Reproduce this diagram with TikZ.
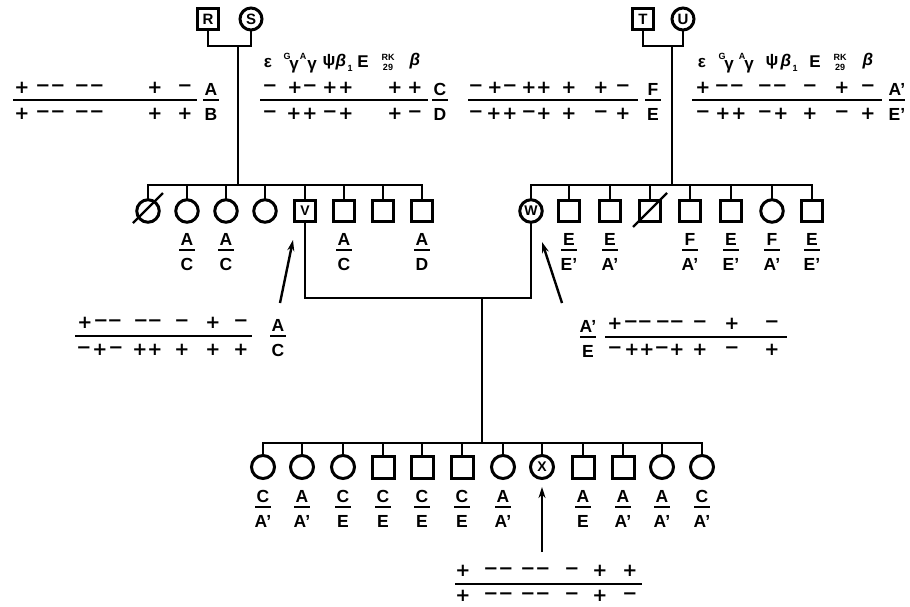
\documentclass[tikz,border=0pt]{standalone}
\usepackage{fontspec}
\setmainfont{Liberation Sans}
\newfontfamily\sgnfont{DejaVu Sans}
\usetikzlibrary{arrows.meta,calc}
\newcommand\gtp[4]{%
  \node[lab] at (#1,#2-11) {#3};
  \draw[bar] (#1-8,#2) -- (#1+8,#2);
  \node[lab] at (#1,#2+14) {#4};}
\newcommand\sgrow[2]{\foreach \px/\pv in {#2} {\node[sg] at (\px,#1) {\pv};}}
\begin{document}
\begin{tikzpicture}[x=1pt,y=-1pt,
  ln/.style={line width=2.6pt,line cap=rect},
  hl/.style={line width=2.6pt},
  bar/.style={line width=2.4pt},
  sq1/.style={draw,line width=3pt,minimum size=21pt,inner sep=0pt,font=\bfseries\fontsize{15}{15}\selectfont},
  ci1/.style={draw,circle,line width=3pt,minimum size=22pt,inner sep=0pt,font=\bfseries\fontsize{15}{15}\selectfont},
  sq2/.style={draw,line width=3pt,minimum size=21pt,inner sep=0pt,font=\bfseries\fontsize{14}{14}\selectfont},
  ci2/.style={draw,circle,line width=3pt,minimum size=22.5pt,inner sep=0pt,font=\bfseries\fontsize{14}{14}\selectfont},
  sq3/.style={draw,line width=3pt,minimum size=22pt,inner sep=0pt,font=\bfseries\fontsize{14}{14}\selectfont},
  ci3/.style={draw,circle,line width=3pt,minimum size=23pt,inner sep=0pt,font=\bfseries\fontsize{14}{14}\selectfont},
  lab/.style={font=\bfseries\fontsize{17.5}{17.5}\selectfont,inner sep=0pt},
  sg/.style={font=\sgnfont\bfseries\fontsize{18}{18}\selectfont,inner sep=0pt},
  hd/.style={font=\bfseries\fontsize{17}{17}\selectfont,inner sep=0pt},
  hs/.style={font=\bfseries\fontsize{9}{9}\selectfont,inner sep=0pt},
  arr/.style={line width=2.4pt,-{Stealth[length=11pt,width=7pt]}}]
\useasboundingbox (0,0) rectangle (910,606);

% ---------- Generation I ----------
\node[sq1] (R) at (208,19) {R};
\node[ci1] (S) at (251,19) {S};
\coordinate (J1) at (238,46);
\draw[ln] (R.south) -- (R.south |- J1) -- (S.south |- J1) -- (S.south);
\coordinate (G1) at (238,185);
\draw[ln] (J1) -- (G1);

\node[sq1] (T) at (643,19) {T};
\node[ci1] (U) at (683,19) {U};
\coordinate (J2) at (672,46);
\draw[ln] (T.south) -- (T.south |- J2) -- (U.south |- J2) -- (U.south);
\coordinate (G2) at (672,185);
\draw[ln] (J2) -- (G2);

% ---------- Generation II left ----------
\node[ci2] (L1) at (148,211) {};
\node[ci2] (L2) at (187,211) {};
\node[ci2] (L3) at (226,211) {};
\node[ci2] (L4) at (265,211) {};
\node[sq2] (L5) at (305,211) {V};
\node[sq2] (L6) at (344,211) {};
\node[sq2] (L7) at (383,211) {};
\node[sq2] (L8) at (422,211) {};
\draw[ln] (L1 |- G1) -- (L8 |- G1);
\foreach \k in {1,...,8} {\draw[ln] (L\k.north) -- (L\k |- G1);}
\draw[line width=2.4pt] ($(L1)+(-15,12)$) -- ($(L1)+(15,-18)$);

% ---------- Generation II right ----------
\node[ci2] (Q1) at (531,211) {W};
\node[sq2] (Q2) at (569,211) {};
\node[sq2] (Q3) at (610,211) {};
\node[sq2] (Q4) at (650,211) {};
\node[sq2] (Q5) at (690,211) {};
\node[sq2] (Q6) at (731,211) {};
\node[ci2] (Q7) at (772,211) {};
\node[sq2] (Q8) at (812,211) {};
\draw[ln] (Q1 |- G2) -- (Q8 |- G2);
\foreach \k in {1,...,8} {\draw[ln] (Q\k.north) -- (Q\k |- G2);}
\draw[line width=2.4pt] ($(Q4)+(-17,16)$) -- ($(Q4)+(17,-18)$);

% genotype labels II
\gtp{187}{250}{A}{C}
\gtp{226}{250}{A}{C}
\gtp{344}{250}{A}{C}
\gtp{422}{250}{A}{D}
\gtp{569}{250}{E}{E'}
\gtp{610}{250}{E}{A'}
\gtp{690}{250}{F}{A'}
\gtp{731}{250}{E}{E'}
\gtp{772}{250}{F}{A'}
\gtp{812}{250}{E}{E'}

% ---------- mating V x W ----------
\coordinate (M) at (482,298);
\draw[ln] (L5.south) -- (L5.south |- M) -- (Q1.south |- M) -- (Q1.south);
\coordinate (G3) at (482,443);
\draw[ln] (M) -- (G3);

% ---------- Generation III ----------
\node[ci3] (B1) at (263,467) {};
\node[ci3] (B2) at (302,467) {};
\node[ci3] (B3) at (343,467) {};
\node[sq3] (B4) at (383,467) {};
\node[sq3] (B5) at (422,467) {};
\node[sq3] (B6) at (462,467) {};
\node[ci3] (B7) at (503,467) {};
\node[ci3] (B8) at (542,467) {X};
\node[sq3] (B9) at (583,467) {};
\node[sq3] (B10) at (623,467) {};
\node[ci3] (B11) at (662,467) {};
\node[ci3] (B12) at (702,467) {};
\draw[ln] (B1 |- G3) -- (B12 |- G3);
\foreach \k in {1,...,12} {\draw[ln] (B\k.north) -- (B\k |- G3);}

\gtp{263}{507}{C}{A'}
\gtp{302}{507}{A}{A'}
\gtp{343}{507}{C}{E}
\gtp{383}{507}{C}{E}
\gtp{422}{507}{C}{E}
\gtp{462}{507}{C}{E}
\gtp{503}{507}{A}{A'}
\gtp{583}{507}{A}{E}
\gtp{623}{507}{A}{A'}
\gtp{662}{507}{A}{A'}
\gtp{702}{507}{C}{A'}

% ---------- arrows ----------
\coordinate (aL0) at (280,303); \coordinate (aL1) at (293,240);
\coordinate (aR0) at (562,303); \coordinate (aR1) at (542,242);
\coordinate (aX0) at (542,552); \coordinate (aX1) at (542,487);
\draw[arr] (aL0) -- (aL1);
\draw[arr] (aR0) -- (aR1);
\draw[arr] (aX0) -- (aX1);

% ---------- headers ----------
\node[hd] at (268,63) {ε};
\node[hs] at (287,56) {G}; \node[hd] at (294,67) {γ};
\node[hs] at (303,56) {A}; \node[hd] at (312,67) {γ};
\node[hd] at (329,62) {ψ}; \node[hd] at (341,62) {\itshape β}; \node[hs] at (350,68) {1};
\node[hd] at (363,62) {E};
\node[hs] at (388,57) {RK}; \node[hs] at (388,67) {29};
\node[hd] at (415,61) {\itshape β};

\node[hd] at (702,63) {ε};
\node[hs] at (722,56) {G}; \node[hd] at (729,67) {γ};
\node[hs] at (742,56) {A}; \node[hd] at (749,67) {γ};
\node[hd] at (772,62) {ψ}; \node[hd] at (786,62) {\itshape β}; \node[hs] at (795,68) {1};
\node[hd] at (815,62) {E};
\node[hs] at (840,57) {RK}; \node[hs] at (840,67) {29};
\node[hd] at (868,61) {\itshape β};

% ---------- haplotypes ----------
\draw[hl] (13,100) -- (197,100);
\sgrow{88}{22/+,43/−,58/−,82/−,97/−,155/+,185/−}
\sgrow{114}{22/+,43/−,58/−,82/−,97/−,155/+,185/+}
\gtp{211}{100}{A}{B}

\draw[hl] (260,100) -- (428,100);
\sgrow{88}{270/−,295/+,310/−,330/+,346/+,395/+,415/+}
\sgrow{114}{270/−,294/+,310/+,330/−,346/+,395/+,415/−}
\gtp{440}{100}{C}{D}

\draw[hl] (468,100) -- (638,100);
\sgrow{88}{476/−,495/+,510/−,529/+,544/+,569/+,601/+,623/−}
\sgrow{114}{476/−,494/+,510/+,529/−,544/+,569/+,601/−,623/+}
\gtp{653}{100}{F}{E}

\draw[hl] (692,100) -- (882,100);
\sgrow{88}{703/+,722/−,737/−,765/−,780/−,810/−,842/+,868/−}
\sgrow{114}{703/−,723/+,739/+,765/−,781/+,810/+,842/−,868/+}
\gtp{897}{100}{A'}{E'}

\draw[hl] (75,336) -- (252,336);
\sgrow{323}{85/+,101/−,115/−,141/−,155/−,182/−,213/+,241/−}
\sgrow{350}{84/−,100/+,116/−,140/+,155/+,182/+,213/+,241/+}
\gtp{278}{336}{A}{C}

\draw[hl] (605,337) -- (787,337);
\sgrow{324}{615/+,631/−,645/−,663/−,677/−,700/−,732/+,772/−}
\sgrow{350}{615/−,632/+,647/+,662/−,677/+,700/+,732/−,772/+}
\gtp{588}{337}{A'}{E}

\draw[hl] (455,584) -- (642,584);
\sgrow{571}{463/+,491/−,506/−,528/−,543/−,572/−,600/+,630/+}
\sgrow{596}{463/+,491/−,506/−,528/−,543/−,572/−,600/+,630/−}
\end{tikzpicture}
\end{document}
